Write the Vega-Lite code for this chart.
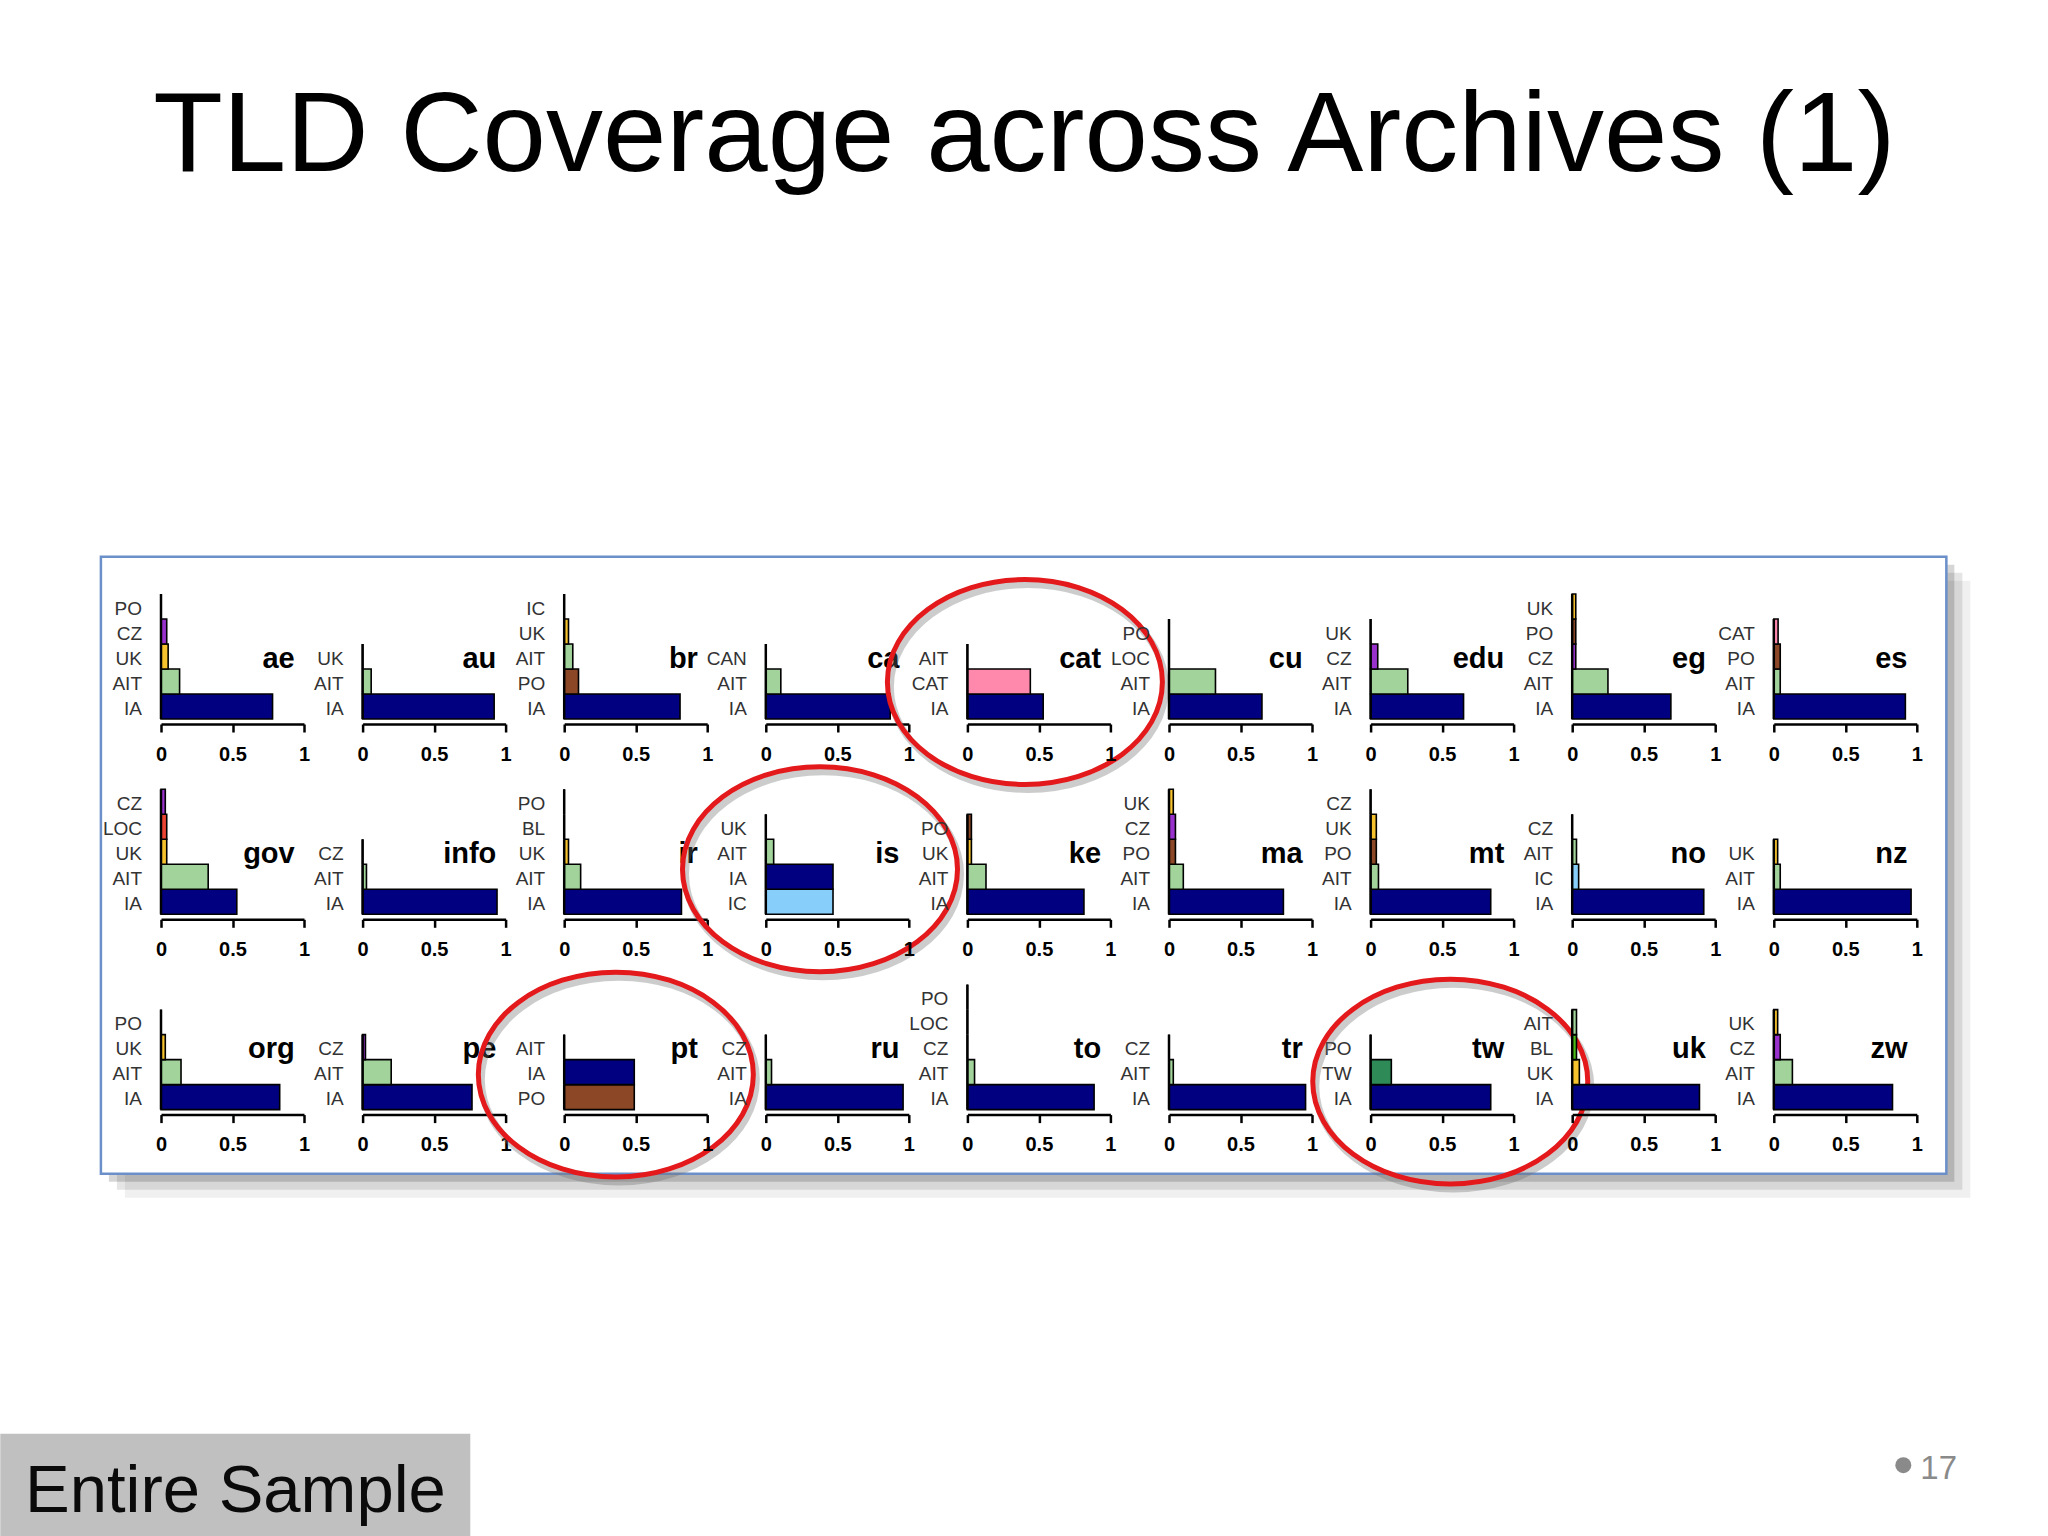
{
  "$schema": "https://vega.github.io/schema/vega-lite/v6.json",
  "background": "white",
  "padding": 0,
  "bounds": "flush",
  "title": {
    "text": "TLD Coverage across Archives (1)",
    "font": "Liberation Sans",
    "fontSize": 114,
    "fontWeight": "normal",
    "color": "#000000",
    "anchor": "middle",
    "baseline": "alphabetic",
    "offset": -284
  },
  "data": {
    "values": [
      {"tld": "ae", "archive": "IA", "rank": 1, "value": 0.78},
      {"tld": "ae", "archive": "AIT", "rank": 2, "value": 0.13},
      {"tld": "ae", "archive": "UK", "rank": 3, "value": 0.05},
      {"tld": "ae", "archive": "CZ", "rank": 4, "value": 0.04},
      {"tld": "ae", "archive": "PO", "rank": 5, "value": 0},
      {"tld": "au", "archive": "IA", "rank": 1, "value": 0.92},
      {"tld": "au", "archive": "AIT", "rank": 2, "value": 0.06},
      {"tld": "au", "archive": "UK", "rank": 3, "value": 0},
      {"tld": "br", "archive": "IA", "rank": 1, "value": 0.81},
      {"tld": "br", "archive": "PO", "rank": 2, "value": 0.1},
      {"tld": "br", "archive": "AIT", "rank": 3, "value": 0.06},
      {"tld": "br", "archive": "UK", "rank": 4, "value": 0.03},
      {"tld": "br", "archive": "IC", "rank": 5, "value": 0},
      {"tld": "ca", "archive": "IA", "rank": 1, "value": 0.87},
      {"tld": "ca", "archive": "AIT", "rank": 2, "value": 0.105},
      {"tld": "ca", "archive": "CAN", "rank": 3, "value": 0},
      {"tld": "cat", "archive": "IA", "rank": 1, "value": 0.53},
      {"tld": "cat", "archive": "CAT", "rank": 2, "value": 0.44},
      {"tld": "cat", "archive": "AIT", "rank": 3, "value": 0},
      {"tld": "cu", "archive": "IA", "rank": 1, "value": 0.65},
      {"tld": "cu", "archive": "AIT", "rank": 2, "value": 0.325},
      {"tld": "cu", "archive": "LOC", "rank": 3, "value": 0},
      {"tld": "cu", "archive": "PO", "rank": 4, "value": 0},
      {"tld": "edu", "archive": "IA", "rank": 1, "value": 0.65},
      {"tld": "edu", "archive": "AIT", "rank": 2, "value": 0.26},
      {"tld": "edu", "archive": "CZ", "rank": 3, "value": 0.05},
      {"tld": "edu", "archive": "UK", "rank": 4, "value": 0},
      {"tld": "eg", "archive": "IA", "rank": 1, "value": 0.69},
      {"tld": "eg", "archive": "AIT", "rank": 2, "value": 0.25},
      {"tld": "eg", "archive": "CZ", "rank": 3, "value": 0.025},
      {"tld": "eg", "archive": "PO", "rank": 4, "value": 0.025},
      {"tld": "eg", "archive": "UK", "rank": 5, "value": 0.025},
      {"tld": "es", "archive": "IA", "rank": 1, "value": 0.92},
      {"tld": "es", "archive": "AIT", "rank": 2, "value": 0.045},
      {"tld": "es", "archive": "PO", "rank": 3, "value": 0.045},
      {"tld": "es", "archive": "CAT", "rank": 4, "value": 0.03},
      {"tld": "gov", "archive": "IA", "rank": 1, "value": 0.53},
      {"tld": "gov", "archive": "AIT", "rank": 2, "value": 0.33},
      {"tld": "gov", "archive": "UK", "rank": 3, "value": 0.04},
      {"tld": "gov", "archive": "LOC", "rank": 4, "value": 0.04},
      {"tld": "gov", "archive": "CZ", "rank": 5, "value": 0.03},
      {"tld": "info", "archive": "IA", "rank": 1, "value": 0.94},
      {"tld": "info", "archive": "AIT", "rank": 2, "value": 0.027},
      {"tld": "info", "archive": "CZ", "rank": 3, "value": 0},
      {"tld": "ir", "archive": "IA", "rank": 1, "value": 0.82},
      {"tld": "ir", "archive": "AIT", "rank": 2, "value": 0.115},
      {"tld": "ir", "archive": "UK", "rank": 3, "value": 0.03},
      {"tld": "ir", "archive": "BL", "rank": 4, "value": 0},
      {"tld": "ir", "archive": "PO", "rank": 5, "value": 0},
      {"tld": "is", "archive": "IC", "rank": 1, "value": 0.47},
      {"tld": "is", "archive": "IA", "rank": 2, "value": 0.47},
      {"tld": "is", "archive": "AIT", "rank": 3, "value": 0.055},
      {"tld": "is", "archive": "UK", "rank": 4, "value": 0},
      {"tld": "ke", "archive": "IA", "rank": 1, "value": 0.815},
      {"tld": "ke", "archive": "AIT", "rank": 2, "value": 0.13},
      {"tld": "ke", "archive": "UK", "rank": 3, "value": 0.028},
      {"tld": "ke", "archive": "PO", "rank": 4, "value": 0.028},
      {"tld": "ma", "archive": "IA", "rank": 1, "value": 0.8},
      {"tld": "ma", "archive": "AIT", "rank": 2, "value": 0.1},
      {"tld": "ma", "archive": "PO", "rank": 3, "value": 0.045},
      {"tld": "ma", "archive": "CZ", "rank": 4, "value": 0.045},
      {"tld": "ma", "archive": "UK", "rank": 5, "value": 0.03},
      {"tld": "mt", "archive": "IA", "rank": 1, "value": 0.84},
      {"tld": "mt", "archive": "AIT", "rank": 2, "value": 0.055},
      {"tld": "mt", "archive": "PO", "rank": 3, "value": 0.04},
      {"tld": "mt", "archive": "UK", "rank": 4, "value": 0.04},
      {"tld": "mt", "archive": "CZ", "rank": 5, "value": 0},
      {"tld": "no", "archive": "IA", "rank": 1, "value": 0.92},
      {"tld": "no", "archive": "IC", "rank": 2, "value": 0.045},
      {"tld": "no", "archive": "AIT", "rank": 3, "value": 0.03},
      {"tld": "no", "archive": "CZ", "rank": 4, "value": 0},
      {"tld": "nz", "archive": "IA", "rank": 1, "value": 0.96},
      {"tld": "nz", "archive": "AIT", "rank": 2, "value": 0.045},
      {"tld": "nz", "archive": "UK", "rank": 3, "value": 0.027},
      {"tld": "org", "archive": "IA", "rank": 1, "value": 0.83},
      {"tld": "org", "archive": "AIT", "rank": 2, "value": 0.14},
      {"tld": "org", "archive": "UK", "rank": 3, "value": 0.03},
      {"tld": "org", "archive": "PO", "rank": 4, "value": 0},
      {"tld": "pe", "archive": "IA", "rank": 1, "value": 0.765},
      {"tld": "pe", "archive": "AIT", "rank": 2, "value": 0.2},
      {"tld": "pe", "archive": "CZ", "rank": 3, "value": 0.02},
      {"tld": "pt", "archive": "PO", "rank": 1, "value": 0.49},
      {"tld": "pt", "archive": "IA", "rank": 2, "value": 0.49},
      {"tld": "pt", "archive": "AIT", "rank": 3, "value": 0},
      {"tld": "ru", "archive": "IA", "rank": 1, "value": 0.96},
      {"tld": "ru", "archive": "AIT", "rank": 2, "value": 0.04},
      {"tld": "ru", "archive": "CZ", "rank": 3, "value": 0},
      {"tld": "to", "archive": "IA", "rank": 1, "value": 0.886},
      {"tld": "to", "archive": "AIT", "rank": 2, "value": 0.05},
      {"tld": "to", "archive": "CZ", "rank": 3, "value": 0},
      {"tld": "to", "archive": "LOC", "rank": 4, "value": 0},
      {"tld": "to", "archive": "PO", "rank": 5, "value": 0},
      {"tld": "tr", "archive": "IA", "rank": 1, "value": 0.955},
      {"tld": "tr", "archive": "AIT", "rank": 2, "value": 0.03},
      {"tld": "tr", "archive": "CZ", "rank": 3, "value": 0},
      {"tld": "tw", "archive": "IA", "rank": 1, "value": 0.84},
      {"tld": "tw", "archive": "TW", "rank": 2, "value": 0.145},
      {"tld": "tw", "archive": "PO", "rank": 3, "value": 0},
      {"tld": "uk", "archive": "IA", "rank": 1, "value": 0.89},
      {"tld": "uk", "archive": "UK", "rank": 2, "value": 0.05},
      {"tld": "uk", "archive": "BL", "rank": 3, "value": 0.03},
      {"tld": "uk", "archive": "AIT", "rank": 4, "value": 0.03},
      {"tld": "zw", "archive": "IA", "rank": 1, "value": 0.83},
      {"tld": "zw", "archive": "AIT", "rank": 2, "value": 0.13},
      {"tld": "zw", "archive": "CZ", "rank": 3, "value": 0.045},
      {"tld": "zw", "archive": "UK", "rank": 4, "value": 0.027}
    ]
  },
  "facet": {"field": "tld", "type": "nominal", "header": {"labels": false, "labelExpr": "''", "labelFontSize": 0, "labelPadding": 0, "title": null, "titlePadding": 0}},
  "columns": 9,
  "spacing": {"row": 70.3, "column": 58.6},
  "resolve": {"axis": {"x": "independent", "y": "independent"}},
  "spec": {
    "width": 143,
    "height": 125,
    "layer": [
      {
        "transform": [{"filter": "datum.tld == 'ae' && datum.rank == 1"}],
        "mark": {"type": "rect", "fill": "#ffffff", "stroke": null},
        "encoding": {
          "x": {"datum": -1.1238, "type": "quantitative"},
          "x2": {"datum": 13.198},
          "y": {"datum": 29.232, "type": "quantitative", "axis": null},
          "y2": {"datum": -32.208}
        }
      },
      {
        "transform": [{"filter": "datum.tld == 'ae' && datum.rank == 1"}],
        "mark": {"type": "rect", "fill": "#000000", "opacity": 0.06},
        "encoding": {
          "x": {"datum": -0.2525, "type": "quantitative"},
          "x2": {"datum": 12.653},
          "y": {"datum": 6.032, "type": "quantitative", "axis": null},
          "y2": {"datum": -18.648}
        }
      },
      {
        "transform": [{"filter": "datum.tld == 'ae' && datum.rank == 1"}],
        "mark": {"type": "rect", "fill": "#000000", "opacity": 0.1},
        "encoding": {
          "x": {"datum": -0.3084, "type": "quantitative"},
          "x2": {"datum": 12.597},
          "y": {"datum": 6.352, "type": "quantitative", "axis": null},
          "y2": {"datum": -18.328}
        }
      },
      {
        "transform": [{"filter": "datum.tld == 'ae' && datum.rank == 1"}],
        "mark": {"type": "rect", "fill": "#000000", "opacity": 0.16},
        "encoding": {
          "x": {"datum": -0.3643, "type": "quantitative"},
          "x2": {"datum": 12.541},
          "y": {"datum": 6.672, "type": "quantitative", "axis": null},
          "y2": {"datum": -18.008}
        }
      },
      {
        "transform": [{"filter": "datum.tld == 'ae' && datum.rank == 1"}],
        "mark": {"type": "rect", "fill": "#ffffff", "stroke": "#6b8fc9", "strokeWidth": 2.5},
        "encoding": {
          "x": {"datum": -0.4203, "type": "quantitative"},
          "x2": {"datum": 12.485},
          "y": {"datum": 6.992, "type": "quantitative", "axis": null},
          "y2": {"datum": -17.688}
        }
      },
      {
        "transform": [{"filter": "datum.tld == 'ae' && datum.rank == 1"}],
        "mark": {"type": "rect", "fill": "#c0c0c0"},
        "encoding": {
          "x": {"datum": -1.1238, "type": "quantitative"},
          "x2": {"datum": 2.163},
          "y": {"datum": -28.088, "type": "quantitative", "axis": null},
          "y2": {"datum": -32.208}
        }
      },
      {
        "transform": [{"filter": "datum.tld == 'ae' && datum.rank == 1"}],
        "mark": {"type": "text", "text": "Entire Sample", "align": "left", "baseline": "alphabetic", "font": "Liberation Sans", "fontSize": 67, "color": "#0a0a0a"},
        "encoding": {
          "x": {"datum": -0.951, "type": "quantitative"},
          "y": {"datum": -31.208, "type": "quantitative", "axis": null}
        }
      },
      {
        "transform": [{"filter": "datum.tld == 'ae' && datum.rank == 1"}],
        "mark": {"type": "point", "shape": "circle", "filled": true, "size": 256, "color": "#8a8a8a", "opacity": 1},
        "encoding": {
          "x": {"datum": 12.184, "type": "quantitative"},
          "y": {"datum": -29.348, "type": "quantitative", "axis": null}
        }
      },
      {
        "transform": [{"filter": "datum.tld == 'ae' && datum.rank == 1"}],
        "mark": {"type": "text", "text": "17", "align": "left", "baseline": "alphabetic", "font": "Liberation Sans", "fontSize": 33, "color": "#8a8a8a"},
        "encoding": {
          "x": {"datum": 12.303, "type": "quantitative"},
          "y": {"datum": -29.908, "type": "quantitative", "axis": null}
        }
      },
      {
        "mark": {"type": "bar", "orient": "horizontal", "height": 25, "stroke": "#000000", "strokeWidth": 1.6},
        "encoding": {
          "x": {
            "field": "value",
            "type": "quantitative",
            "stack": null,
            "scale": {"domain": [0, 1], "nice": false, "zero": true, "padding": 0},
            "axis": {
              "title": null,
              "values": [0, 0.5, 1],
              "labelExpr": "datum.value",
              "grid": false,
              "offset": 5,
              "zindex": 1,
              "domainColor": "#000000",
              "domainWidth": 2.5,
              "tickColor": "#000000",
              "tickWidth": 2.5,
              "tickSize": 8,
              "labelFont": "Liberation Sans",
              "labelFontWeight": "bold",
              "labelFontSize": 20,
              "labelColor": "#000000",
              "labelPadding": 12,
              "labelFlush": false,
              "labelOverlap": false
            }
          },
          "y": {"field": "rank", "type": "quantitative", "scale": {"domain": [0.5, 5.5], "nice": false, "zero": false, "padding": 0}, "axis": null},
          "color": {
            "field": "archive",
            "type": "nominal",
            "legend": null,
            "scale": {
              "domain": ["IA", "AIT", "UK", "CZ", "PO", "CAT", "IC", "LOC", "TW", "BL", "CAN"],
              "range": ["#000080", "#a2d39b", "#f6c22e", "#9932cc", "#8b4726", "#ff89ad", "#87cefa", "#ec4432", "#2e8b57", "#4cbb17", "#cccccc"]
            }
          }
        }
      },
      {
        "mark": {"type": "tick", "orient": "vertical", "size": 25, "thickness": 2.5, "color": "#000000", "opacity": 1},
        "encoding": {
          "x": {"datum": 0, "type": "quantitative"},
          "y": {"field": "rank", "type": "quantitative", "axis": null}
        }
      },
      {
        "mark": {"type": "text", "align": "right", "baseline": "middle", "dx": -19, "dy": 2, "font": "Liberation Sans", "fontSize": 19, "color": "#333333"},
        "encoding": {
          "x": {"datum": 0, "type": "quantitative"},
          "y": {"field": "rank", "type": "quantitative", "axis": null},
          "text": {"field": "archive", "type": "nominal"}
        }
      },
      {
        "transform": [{"filter": "datum.rank == 1"}],
        "mark": {"type": "text", "align": "right", "baseline": "alphabetic", "font": "Liberation Sans", "fontWeight": "bold", "fontSize": 29, "color": "#000000"},
        "encoding": {
          "x": {"datum": 0.935, "type": "quantitative"},
          "y": {"datum": 2.55, "type": "quantitative", "axis": null},
          "text": {"field": "tld", "type": "nominal"}
        }
      },
      {
        "transform": [{"filter": "datum.rank == 1 && datum.tld == 'cat'"}],
        "mark": {"type": "point", "shape": "M -1 0 A 1 0.745 0 1 0 1 0 A 1 0.745 0 1 0 -1 0 Z", "size": 75625, "filled": false, "color": "#707070", "strokeWidth": 7, "opacity": 0.35, "xOffset": 3, "yOffset": 5},
        "encoding": {
          "x": {"datum": 0.402, "type": "quantitative"},
          "y": {"datum": 1.98, "type": "quantitative", "axis": null}
        }
      },
      {
        "transform": [{"filter": "datum.rank == 1 && datum.tld == 'cat'"}],
        "mark": {"type": "point", "shape": "M -1 0 A 1 0.745 0 1 0 1 0 A 1 0.745 0 1 0 -1 0 Z", "size": 75625, "filled": false, "color": "#e3191b", "strokeWidth": 5, "opacity": 1},
        "encoding": {
          "x": {"datum": 0.402, "type": "quantitative"},
          "y": {"datum": 1.98, "type": "quantitative", "axis": null}
        }
      },
      {
        "transform": [{"filter": "datum.rank == 1 && datum.tld == 'is'"}],
        "mark": {"type": "point", "shape": "M -1 0 A 1 0.745 0 1 0 1 0 A 1 0.745 0 1 0 -1 0 Z", "size": 75625, "filled": false, "color": "#707070", "strokeWidth": 7, "opacity": 0.35, "xOffset": 3, "yOffset": 5},
        "encoding": {
          "x": {"datum": 0.379, "type": "quantitative"},
          "y": {"datum": 2.3, "type": "quantitative", "axis": null}
        }
      },
      {
        "transform": [{"filter": "datum.rank == 1 && datum.tld == 'is'"}],
        "mark": {"type": "point", "shape": "M -1 0 A 1 0.745 0 1 0 1 0 A 1 0.745 0 1 0 -1 0 Z", "size": 75625, "filled": false, "color": "#e3191b", "strokeWidth": 5, "opacity": 1},
        "encoding": {
          "x": {"datum": 0.379, "type": "quantitative"},
          "y": {"datum": 2.3, "type": "quantitative", "axis": null}
        }
      },
      {
        "transform": [{"filter": "datum.rank == 1 && datum.tld == 'pt'"}],
        "mark": {"type": "point", "shape": "M -1 0 A 1 0.745 0 1 0 1 0 A 1 0.745 0 1 0 -1 0 Z", "size": 75625, "filled": false, "color": "#707070", "strokeWidth": 7, "opacity": 0.35, "xOffset": 3, "yOffset": 5},
        "encoding": {
          "x": {"datum": 0.361, "type": "quantitative"},
          "y": {"datum": 1.9, "type": "quantitative", "axis": null}
        }
      },
      {
        "transform": [{"filter": "datum.rank == 1 && datum.tld == 'pt'"}],
        "mark": {"type": "point", "shape": "M -1 0 A 1 0.745 0 1 0 1 0 A 1 0.745 0 1 0 -1 0 Z", "size": 75625, "filled": false, "color": "#e3191b", "strokeWidth": 5, "opacity": 1},
        "encoding": {
          "x": {"datum": 0.361, "type": "quantitative"},
          "y": {"datum": 1.9, "type": "quantitative", "axis": null}
        }
      },
      {
        "transform": [{"filter": "datum.rank == 1 && datum.tld == 'tw'"}],
        "mark": {"type": "point", "shape": "M -1 0 A 1 0.745 0 1 0 1 0 A 1 0.745 0 1 0 -1 0 Z", "size": 75625, "filled": false, "color": "#707070", "strokeWidth": 7, "opacity": 0.35, "xOffset": 3, "yOffset": 5},
        "encoding": {
          "x": {"datum": 0.557, "type": "quantitative"},
          "y": {"datum": 1.62, "type": "quantitative", "axis": null}
        }
      },
      {
        "transform": [{"filter": "datum.rank == 1 && datum.tld == 'tw'"}],
        "mark": {"type": "point", "shape": "M -1 0 A 1 0.745 0 1 0 1 0 A 1 0.745 0 1 0 -1 0 Z", "size": 75625, "filled": false, "color": "#e3191b", "strokeWidth": 5, "opacity": 1},
        "encoding": {
          "x": {"datum": 0.557, "type": "quantitative"},
          "y": {"datum": 1.62, "type": "quantitative", "axis": null}
        }
      }
    ]
  },
  "config": {
    "view": {"stroke": null},
    "font": "Liberation Sans",
    "axis": {"grid": false},
    "scale": {"continuousPadding": 0},
    "header": {"labels": false, "labelFontSize": 0, "labelPadding": 0}
  }
}
